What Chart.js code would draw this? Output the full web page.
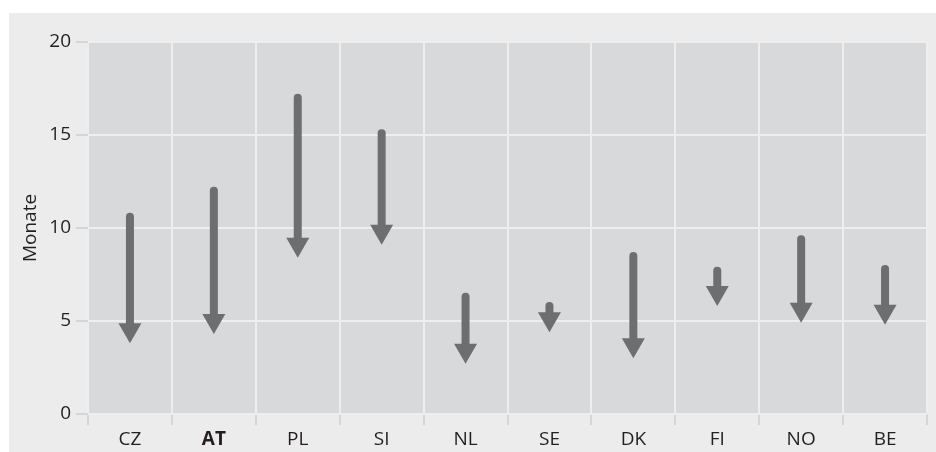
<!DOCTYPE html>
<html>
<head>
<meta charset="utf-8">
<script src="https://cdn.jsdelivr.net/npm/chart.js@4"></script>
<style>
	html, body { margin: 0; padding: 0; background: #ffffff; }
	#wrap { width: 936px; height: 452px; }
</style>
</head>
<body>
<div id="wrap"><canvas id="myChart" width="936" height="452"></canvas></div>
<script>
const countries = ['CZ', 'AT', 'PL', 'SI', 'NL', 'SE', 'DK', 'FI', 'NO', 'BE'];
const fromMonths = [10.6, 12.0, 17.0, 15.1, 6.3, 5.8, 8.5, 7.7, 9.4, 7.8];
const toMonths = [3.8, 4.3, 8.4, 9.1, 2.7, 4.4, 3.0, 5.8, 4.9, 4.8];
const yTicks = [0, 5, 10, 15, 20];

const ctx = document.getElementById('myChart');
const textColor = '#231f20';
const fontFamily = '"Open Sans", sans-serif';

// grey panel behind everything, darker plot area
const backgroundPlugin = {
	id: 'panels',
	beforeDraw(chart) {
		const c = chart.ctx;
		const a = chart.chartArea;
		c.save();
		c.fillStyle = '#ececec';
		c.fillRect(9, 13, chart.width - 9, chart.height - 13);
		c.fillStyle = '#d8d9db';
		c.fillRect(a.left, a.top, a.right - a.left, a.bottom - a.top);
		c.restore();
	}
};

// arrow from start value down to end value
const arrowPlugin = {
	id: 'arrows',
	afterDatasetsDraw(chart) {
		const c = chart.ctx;
		const x = chart.scales.x;
		const y = chart.scales.y;
		const headW = 23, headH = 20;
		c.save();
		c.strokeStyle = '#6d6e70';
		c.fillStyle = '#6d6e70';
		c.lineWidth = 8;
		c.lineCap = 'round';
		for (let i = 0; i < countries.length; i++) {
			const px = x.getPixelForValue(i);
			const y0 = y.getPixelForValue(fromMonths[i]);
			const y1 = y.getPixelForValue(toMonths[i]);
			c.beginPath();
			c.moveTo(px, y0);
			c.lineTo(px, y1 - headH + 2);
			c.stroke();
			c.beginPath();
			c.moveTo(px - headW / 2, y1 - headH);
			c.lineTo(px + headW / 2, y1 - headH);
			c.lineTo(px, y1);
			c.closePath();
			c.fill();
		}
		c.restore();
	}
};

new Chart(ctx, {
	type: 'bar',
	data: {
		labels: countries,
		datasets: [{
			label: 'Monate',
			data: countries.map((c, i) => [toMonths[i], fromMonths[i]]),
			backgroundColor: 'rgba(0,0,0,0)',
			borderWidth: 0
		}]
	},
	options: {
		responsive: false,
		animation: false,
		devicePixelRatio: 1,
		layout: { padding: { top: 42, right: 9, bottom: 0, left: 0 } },
		plugins: {
			legend: { display: false },
			tooltip: { enabled: false }
		},
		scales: {
			x: {
				offset: true,
				grid: {
					offset: true,
					color: '#eeeeee',
					lineWidth: 2,
					tickColor: '#d6d6d6',
					tickLength: 11
				},
				border: { display: false },
				ticks: {
					color: textColor,
					padding: 3,
					font: (c) => ({ family: fontFamily, size: 19, weight: c.index === 1 ? 'bold' : 'normal' })
				},
				afterFit(scale) { scale.height = 38; }
			},
			y: {
				min: 0,
				max: 20,
				afterBuildTicks(scale) { scale.ticks = yTicks.map(v => ({ value: v })); },
				grid: {
					color: '#eeeeee',
					lineWidth: 2,
					tickColor: '#d6d6d6',
					tickLength: 12
				},
				border: { display: false },
				ticks: {
					color: textColor,
					padding: 5,
					font: { family: fontFamily, size: 19 }
				},
				title: {
					display: true,
					text: 'Monate',
					color: textColor,
					font: { family: fontFamily, size: 19 },
					padding: { top: 19, bottom: 0 }
				},
				afterFit(scale) { scale.width = 88; }
			}
		}
	},
	plugins: [backgroundPlugin, arrowPlugin]
});
</script>
</body>
</html>
